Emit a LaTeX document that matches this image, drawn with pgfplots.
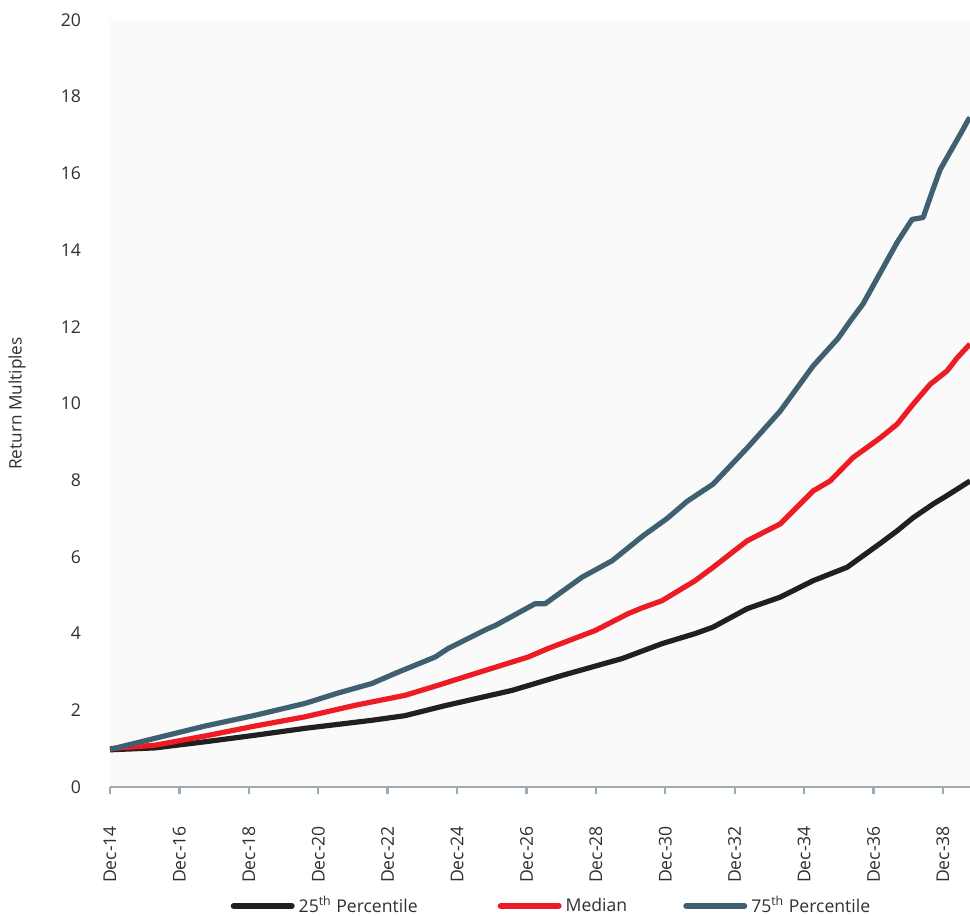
\documentclass[border=0pt]{standalone}
\usepackage{fontspec}
\setmainfont{Open Sans}
\usepackage{pgfplots}
\pgfplotsset{compat=1.18}
\definecolor{cBlack}{HTML}{231F20}
\definecolor{cRed}{HTML}{ED1C24}
\definecolor{cBlue}{HTML}{3F6070}
\definecolor{cBg}{HTML}{FAFAFA}
\definecolor{cAxis}{HTML}{9EAAB2}
\definecolor{cText}{HTML}{303030}
\begin{document}
\begin{tikzpicture}
\begin{axis}[
  at={(0,0)}, anchor=south west,
  width=430pt, height=383.5pt, scale only axis=true,
  xmin=0, xmax=24.78, ymin=0, ymax=20,
  axis background/.style={fill=cBg},
  axis x line*=bottom, axis y line*=left,
  y axis line style={draw=none},
  x axis line style={draw=cAxis, line width=1.2pt},
  xtick={0,2,...,24},
  xticklabels={Dec-14,Dec-16,Dec-18,Dec-20,Dec-22,Dec-24,Dec-26,Dec-28,Dec-30,Dec-32,Dec-34,Dec-36,Dec-38},
  xtick style={draw=cAxis, line width=1.2pt},
  tick align=outside,
  major tick length=3.5pt,
  ytick={0,2,...,20},
  ytick style={draw=none},
  /pgf/number format/assume math mode=true,
  xticklabel shift=12.5pt,
  xticklabel style={rotate=90, anchor=east, font=\fontsize{8.8}{10}\selectfont, text=cText},
  yticklabel style={anchor=east, font=\fontsize{8.8}{10}\selectfont, text=cText, xshift=-7.5pt},
  ylabel={Return Multiples},
  ylabel style={at={(axis description cs:-0.108,0.5)}, anchor=center, font=\fontsize{8.6}{10}\selectfont, text=cText},
  legend columns=3,
  legend style={at={(axis description cs:0.5145,-0.155)}, anchor=center, draw=none, fill=none,
    font=\fontsize{8.8}{10}\selectfont, text=cText,
    /tikz/column 2/.style={column sep=38pt},
    /tikz/column 4/.style={column sep=26pt}},
  legend image code/.code={\draw[#1, line width=3pt, line cap=round] (0pt,0pt) -- (29pt,0pt);},
  clip=true,
]
\addplot[cBlack, line width=2.6pt, line join=round] coordinates {
(0,0.97) (1.30,1.02) (2.74,1.18) (4.18,1.35) (5.62,1.53) (7.55,1.74) (8.50,1.86)
(9.65,2.12) (11.59,2.52) (13.03,2.91) (14.76,3.35) (15.91,3.74) (16.86,4.0)
(17.38,4.17) (18.36,4.65) (19.31,4.95) (20.26,5.38) (21.24,5.73) (22.19,6.35)
(22.68,6.68) (23.14,7.02) (23.72,7.38) (24.12,7.6) (24.78,7.98)
};
\addlegendentry{25\textsuperscript{th} Percentile}
\addplot[cRed, line width=2.6pt, line join=round] coordinates {
(0,1.0) (1.30,1.09) (2.74,1.33) (4.18,1.59) (5.62,1.83) (7.06,2.13) (8.50,2.39)
(9.37,2.63) (10.81,3.04) (12.05,3.39) (12.62,3.61) (13.98,4.08) (14.93,4.52)
(15.33,4.67) (15.91,4.86) (16.86,5.38) (17.38,5.73) (18.36,6.42) (19.31,6.86)
(20.26,7.72) (20.75,7.98) (21.41,8.59) (22.19,9.1) (22.68,9.46) (23.14,9.98)
(23.63,10.5) (24.12,10.85) (24.41,11.19) (24.78,11.55)
};
\addlegendentry{Median}
\addplot[cBlue, line width=2.6pt, line join=round] coordinates {
(0,0.98) (1.30,1.27) (2.74,1.59) (4.18,1.87) (5.62,2.18) (6.57,2.45) (7.55,2.70)
(8.21,2.96) (9.37,3.39) (9.74,3.61) (10.89,4.13) (11.1,4.21) (12.25,4.78)
(12.54,4.78) (13.6,5.47) (14.47,5.9) (15.36,6.55) (16.05,7.0)
(16.63,7.45) (17.38,7.9) (18.36,8.84) (19.31,9.8) (20.26,10.98) (20.98,11.7)
(21.33,12.15) (21.7,12.6) (22.19,13.4) (22.68,14.2) (23.11,14.8) (23.43,14.85)
(23.72,15.6) (23.92,16.1) (24.55,17.1) (24.73,17.4) (24.78,17.45)
};
\addlegendentry{75\textsuperscript{th} Percentile}
\end{axis}
\pgfresetboundingbox
\path[use as bounding box] (-55pt,-64.5pt) rectangle (430pt,393.5pt);
\end{tikzpicture}
\end{document}
